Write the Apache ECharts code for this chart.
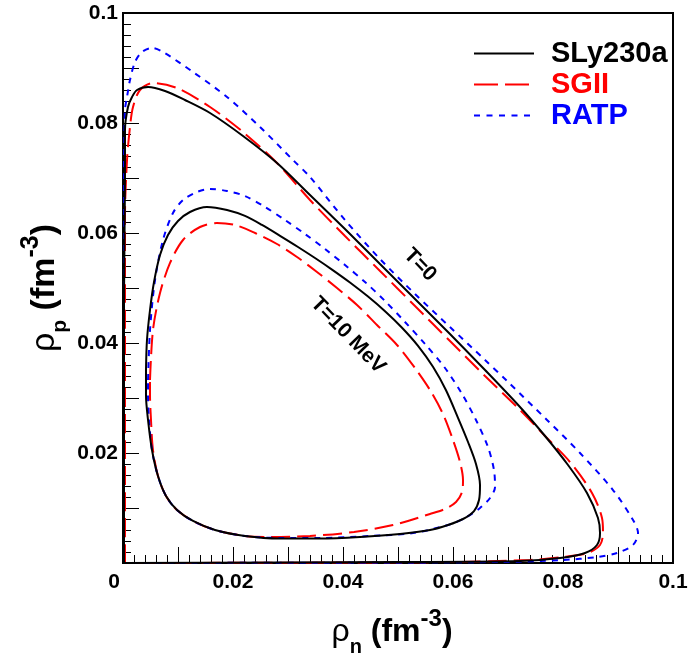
<!DOCTYPE html>
<html>
<head>
<meta charset="utf-8">
<script src="https://cdn.jsdelivr.net/npm/echarts@6/dist/echarts.min.js"></script>
<style>
html,body{margin:0;padding:0;background:#fff;}
#chart{width:691px;height:659px;}
</style>
</head>
<body>
<div id="chart"></div>
<script>
// ---- data (rho_n, rho_p) in fm^-3 ----
const seriesNames = ['SLy230a', 'SGII', 'RATP'];
const seriesColors = ['#000000', '#ff0000', '#0000ff'];

// T = 0 spinodals
const slyT0 = [[0.00018,0],[0.00018,0.04782],[0.00036,0.06964],[0.00036,0.07873],[0.00091,0.08291],[0.00164,0.08473],[0.00255,0.08600],[0.00455,0.08655],[0.00764,0.08582],[0.01127,0.08418],[0.01582,0.08182],[0.02182,0.07764],[0.02800,0.07273],[0.03400,0.06691],[0.04036,0.06073],[0.04673,0.05436],[0.05309,0.04800],[0.05945,0.04164],[0.06582,0.03509],[0.07218,0.02836],[0.07673,0.02309],[0.08091,0.01782],[0.08436,0.01273],[0.08636,0.00818],[0.08673,0.00545],[0.08618,0.00327],[0.08400,0.00182],[0.07945,0.00091],[0.07218,0.00036],[0.05036,0.00018],[0.00018,0]];
const sgiiT0 = [[0.00036,0],[0.00036,0.04782],[0.00036,0.06291],[0.00073,0.07327],[0.00127,0.07927],[0.00182,0.08291],[0.00309,0.08600],[0.00545,0.08727],[0.00982,0.08636],[0.01582,0.08291],[0.02182,0.07836],[0.02800,0.07273],[0.03400,0.06600],[0.04036,0.05945],[0.04673,0.05309],[0.05309,0.04673],[0.05945,0.04036],[0.06582,0.03400],[0.07218,0.02782],[0.07673,0.02309],[0.08127,0.01836],[0.08527,0.01273],[0.08709,0.00818],[0.08727,0.00545],[0.08673,0.00327],[0.08455,0.00182],[0.08000,0.00109],[0.07400,0.00055],[0.05945,0.00018],[0.00036,0]];
const ratpT0 = [[0.00018,0],[0.00018,0.04782],[0.00018,0.06964],[0.00036,0.08236],[0.00073,0.08473],[0.00127,0.08782],[0.00218,0.09109],[0.00345,0.09291],[0.00527,0.09364],[0.00727,0.09291],[0.01273,0.08927],[0.01891,0.08473],[0.02491,0.07927],[0.03091,0.07327],[0.03400,0.07018],[0.04036,0.06236],[0.04673,0.05527],[0.05309,0.04891],[0.05945,0.04291],[0.06582,0.03691],[0.06982,0.03309],[0.07709,0.02600],[0.08309,0.02000],[0.08909,0.01327],[0.09273,0.00782],[0.09364,0.00545],[0.09273,0.00327],[0.08982,0.00182],[0.08618,0.00109],[0.08000,0.00055],[0.06855,0.00018],[0.00018,0]];

// T = 10 MeV spinodals
const slyT10 = [[0.00418,0.03509],[0.00436,0.04055],[0.00491,0.04600],[0.00564,0.05109],[0.00673,0.05600],[0.00818,0.05964],[0.01000,0.06218],[0.01218,0.06382],[0.01527,0.06473],[0.01891,0.06418],[0.02218,0.06310],[0.02527,0.06146],[0.02855,0.05949],[0.03182,0.05746],[0.03491,0.05545],[0.03800,0.05335],[0.04127,0.05100],[0.04455,0.04844],[0.04764,0.04578],[0.05073,0.04278],[0.05364,0.03949],[0.05636,0.03568],[0.05873,0.03141],[0.06091,0.02640],[0.06273,0.02200],[0.06418,0.01800],[0.06491,0.01418],[0.06473,0.01145],[0.06382,0.00945],[0.06182,0.00800],[0.05909,0.00691],[0.05582,0.00600],[0.05036,0.00527],[0.04309,0.00473],[0.03582,0.00445],[0.02855,0.00445],[0.02218,0.00491],[0.01673,0.00600],[0.01273,0.00764],[0.00982,0.00964],[0.00782,0.01218],[0.00636,0.01582],[0.00527,0.02055],[0.00455,0.02600],[0.00418,0.03055],[0.00418,0.03509]];
const sgiiT10 = [[0.00491,0.03327],[0.00545,0.04236],[0.00673,0.04909],[0.00855,0.05455],[0.01091,0.05873],[0.01400,0.06109],[0.01709,0.06182],[0.02036,0.06145],[0.02400,0.06000],[0.02800,0.05800],[0.03164,0.05564],[0.03527,0.05291],[0.03891,0.05000],[0.04255,0.04691],[0.04618,0.04327],[0.04982,0.03964],[0.05309,0.03545],[0.05582,0.03145],[0.05818,0.02709],[0.06000,0.02236],[0.06127,0.01836],[0.06182,0.01509],[0.06164,0.01291],[0.06055,0.01109],[0.05855,0.00982],[0.05582,0.00891],[0.04909,0.00691],[0.04200,0.00564],[0.03400,0.00491],[0.02673,0.00473],[0.02218,0.00491],[0.01673,0.00600],[0.01273,0.00764],[0.00982,0.00964],[0.00782,0.01218],[0.00636,0.01582],[0.00545,0.02055],[0.00509,0.02600],[0.00491,0.03055],[0.00491,0.03327]];
const ratpT10 = [[0.00455,0.03327],[0.00491,0.04236],[0.00582,0.05145],[0.00727,0.05873],[0.00909,0.06364],[0.01091,0.06600],[0.01345,0.06745],[0.01582,0.06800],[0.01891,0.06764],[0.02218,0.06673],[0.02582,0.06473],[0.02945,0.06236],[0.03309,0.05982],[0.03673,0.05709],[0.04036,0.05418],[0.04400,0.05109],[0.04764,0.04764],[0.05127,0.04382],[0.05491,0.03982],[0.05855,0.03545],[0.06164,0.03073],[0.06418,0.02600],[0.06636,0.02109],[0.06745,0.01691],[0.06764,0.01382],[0.06673,0.01182],[0.06491,0.01000],[0.06218,0.00818],[0.05909,0.00691],[0.05273,0.00545],[0.04491,0.00491],[0.03582,0.00455],[0.02855,0.00455],[0.02218,0.00491],[0.01673,0.00600],[0.01273,0.00764],[0.00982,0.00964],[0.00782,0.01218],[0.00636,0.01582],[0.00527,0.02055],[0.00473,0.02600],[0.00455,0.03055],[0.00455,0.03327]];

const annotations = [
  {text: 'T=0', x: 0.0540, y: 0.0542},
  {text: 'T=10 MeV', x: 0.0409, y: 0.0414}
];

const FONT = 'Liberation Sans, Arial, Helvetica, sans-serif';
const dashes = [null, [19, 7], [6, 6]];
const legendDashes = [null, [24, 7], [6, 6.5]];

function mkSeries(name, idx, data) {
  return {
    name: name, type: 'line', data: data, symbol: 'none', smooth: 0.3,
    z: idx === 0 ? 5 : 3,
    lineStyle: {color: seriesColors[idx], width: 2, type: dashes[idx] || 'solid'},
    itemStyle: {color: seriesColors[idx]},
    animation: false
  };
}

function fmtLabel(v, hideZero) {
  const k = Math.round(v * 100);
  if (k % 2 !== 0) return '';
  if (k === 0) return hideZero ? '' : '{z|0}';
  return String(+(k / 100).toFixed(2));
}

function richName(main, sub, sup, L) {
  return {
    g: {fontSize: main, fontFamily: FONT, fontWeight: 'normal', color: '#000', lineHeight: L},
    b: {fontSize: main, fontFamily: FONT, fontWeight: 'bold', color: '#000', lineHeight: L},
    sub: {fontSize: sub, fontFamily: FONT, fontWeight: 'bold', color: '#000', lineHeight: L - 36, verticalAlign: 'bottom'},
    sup: {fontSize: sup, fontFamily: FONT, fontWeight: 'bold', color: '#000', lineHeight: L - 34, verticalAlign: 'top'}
  };
}

const labelStyle = {fontSize: 21, fontWeight: 'bold', fontFamily: FONT, color: '#000'};

const chart = echarts.init(document.getElementById('chart'), null, {renderer: 'canvas'});
const axisCommon = {
  type: 'value', min: 0, max: 0.1, interval: 0.01,
  axisLine: {show: true, onZero: false, lineStyle: {color: '#000', width: 2}},
  axisTick: {show: true, inside: true, length: 16, lineStyle: {color: '#000', width: 1}},
  minorTick: {show: true, splitNumber: 5, length: 8, lineStyle: {color: '#000', width: 1}},
  splitLine: {show: false},
  nameLocation: 'middle',
  nameMoveOverlap: false
};

chart.setOption({
  animation: false,
  backgroundColor: '#fff',
  grid: {left: 123, right: 18, top: 13, bottom: 96, outerBoundsMode: 'none', containLabel: false,
         show: true, borderColor: '#000', borderWidth: 2, backgroundColor: 'transparent'},
  legend: {
    data: seriesNames.map((n, i) => ({
      name: n, textStyle: {color: seriesColors[i]},
      lineStyle: {type: legendDashes[i] || 'solid', width: 2, color: seriesColors[i]}
    })),
    orient: 'vertical', left: 468, top: 34, itemWidth: 60, itemHeight: 14, itemGap: 2,
    itemStyle: {opacity: 0, borderWidth: 0},
    textStyle: {fontSize: 29, fontWeight: 'bold', fontFamily: FONT, padding: [0, 0, 0, 12]}
  },
  xAxis: Object.assign({}, axisCommon, {
    name: '{g|ρ}{sub|n}{b| (fm}{sup|-3}{b|)}', nameGap: 44,
    nameTextStyle: {rich: richName(32, 20, 24, 50), padding: [0, 12, 0, 0]},
    axisLabel: Object.assign({}, labelStyle, {margin: 9, formatter: v => fmtLabel(v, false),
      rich: {z: Object.assign({}, labelStyle, {padding: [0, 18, 0, 0]})}})
  }),
  yAxis: Object.assign({}, axisCommon, {
    name: '{g|ρ}{sub|p}{b| (fm}{sup|-3}{b|)}', nameGap: 52, nameRotate: 90,
    nameTextStyle: {rich: richName(34, 21, 25, 52)},
    axisLabel: Object.assign({}, labelStyle, {margin: 5, formatter: v => fmtLabel(v, true)})
  }),
  series: [
    mkSeries(seriesNames[1], 1, sgiiT0),
    mkSeries(seriesNames[1], 1, sgiiT10),
    mkSeries(seriesNames[2], 2, ratpT0),
    mkSeries(seriesNames[2], 2, ratpT10),
    mkSeries(seriesNames[0], 0, slyT0),
    mkSeries(seriesNames[0], 0, slyT10)
  ]
});

const rot = -46 * Math.PI / 180;
chart.setOption({
  graphic: annotations.map(a => {
    const p = chart.convertToPixel({gridIndex: 0}, [a.x, a.y]);
    return {
      type: 'text', x: p[0], y: p[1], rotation: rot, z: 10,
      style: {text: a.text, fontSize: 21, fontWeight: 'bold', fontFamily: FONT, fill: '#000', align: 'center', verticalAlign: 'middle'}
    };
  })
});
</script>
</body>
</html>
